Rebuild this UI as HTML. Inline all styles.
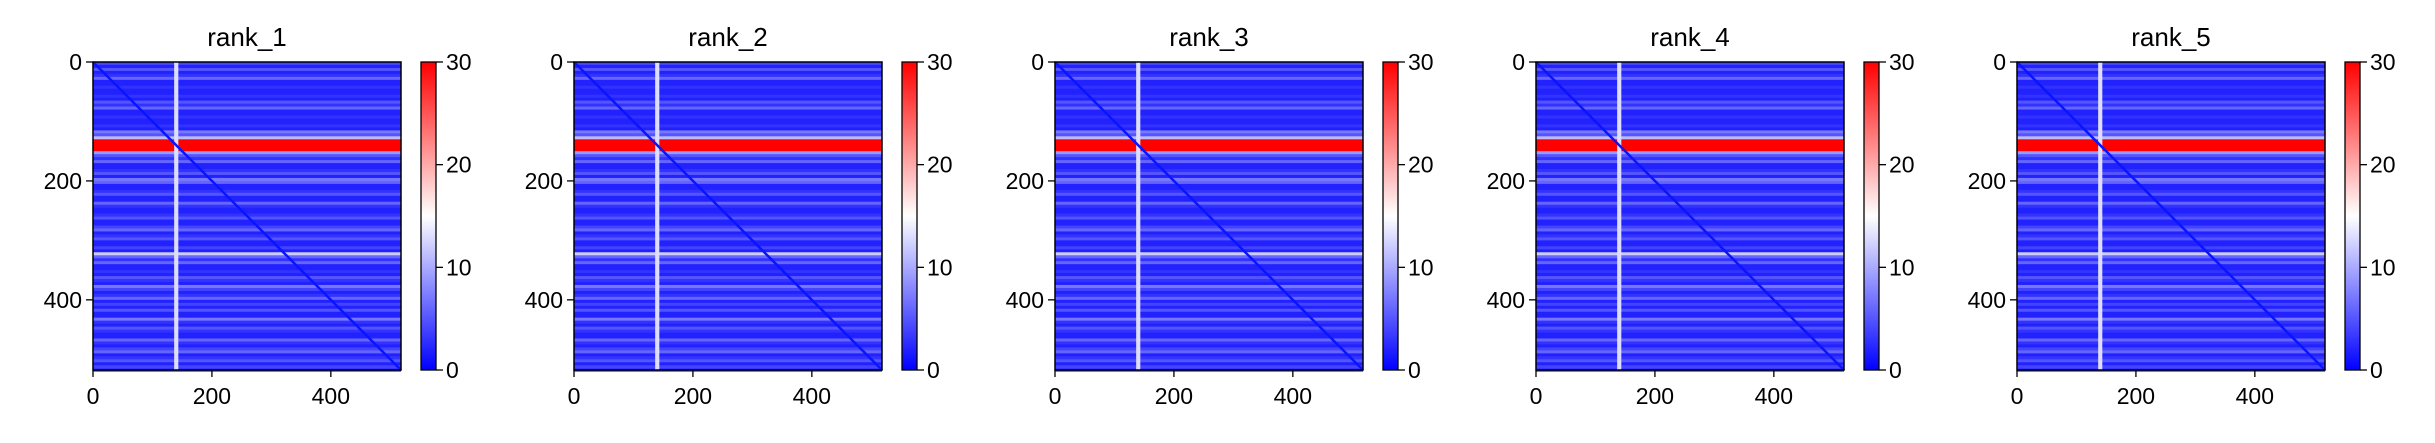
<!DOCTYPE html>
<html><head><meta charset="utf-8">
<style>
html,body{margin:0;padding:0;background:#fff;}
svg text{font-family:"Liberation Sans","DejaVu Sans",sans-serif;fill:#000;}
</style></head>
<body>
<svg id="fig" width="2435" height="438" viewBox="0 0 2435 438" xmlns="http://www.w3.org/2000/svg">
<defs>
<linearGradient id="bwr" x1="0" y1="1" x2="0" y2="0">
<stop offset="0" stop-color="#0000ff"/><stop offset="0.5" stop-color="#ffffff"/><stop offset="1" stop-color="#ff0000"/>
</linearGradient>
</defs>
</svg>
<script>
const panelTitles = ["rank_1","rank_2","rank_3","rank_4","rank_5"];
const axisTicks = [0,200,400];
const cbarTicks = [0,10,20,30];
const dataMax = 518;
const vmax = 30;
const binSize = 5;
// row intensity profile in 5-unit bins (0..515)
const rowProfile = [4,2,5,2,3,6,2,2,3,2,2,3,2,5,3,6,2,2,3,2,
  2,3,2,7,5,11,30,30,30,30,9,5,3,6,2,2,3,5,2,7,
  6,2,2,3,5,2,2,6,3,2,2,3,5,2,2,4,6,2,3,5,
  2,2,4,2,12,6,3,6,2,2,3,2,5,3,2,7,4,2,3,6,
  2,4,2,5,2,2,7,3,2,5,3,2,2,6,3,2,4,6,2,3,
  5,2,4,3];
const colBand = {pos:140, width:7, value:13};
const svg = document.getElementById('fig');
const NS = 'http://www.w3.org/2000/svg';
function mk(tag, attrs, parent){const e=document.createElementNS(NS,tag);for(const k in attrs)e.setAttribute(k,attrs[k]);(parent||svg).appendChild(e);return e;}
function cmap(v){let t=Math.max(0,Math.min(1,v/vmax));
  if(t<0.5){const u=Math.round(255*t*2);return `rgb(${u},${u},255)`;}
  const u=Math.round(255*(1-(t-0.5)*2));return `rgb(255,${u},${u})`;}
const L0=93, step=481, T=62, S=308;
panelTitles.forEach((title,p)=>{
  const L=L0+p*step;
  const sx=v=>L+v/dataMax*S, sy=v=>T+v/dataMax*S;
  const g=mk('g',{});
  
  
  const hm=mk('g',{},g);
  
  
  rowProfile.forEach((v,i)=>{
    const r=mk('rect',{x:sx(0),y:sy(i*binSize),width:S,height:sy((i+1)*binSize)-sy(i*binSize)+0.5,fill:cmap(v)},hm);
    
    
  });
  const c=mk('rect',{x:sx(colBand.pos-colBand.width/2),y:sy(0),width:sx(colBand.width)-sx(0),height:S,fill:cmap(colBand.value)},hm);
  
  
  const d=mk('line',{x1:sx(0),y1:sy(0),x2:sx(dataMax),y2:sy(dataMax),stroke:'#0a14ff','stroke-width':2.5},hm);
  
  
  const fr=mk('rect',{x:L,y:T,width:S,height:S,fill:'none',stroke:'#000','stroke-width':1.5},g);
  
  
  const tt=mk('text',{x:L+S/2,y:46,'font-size':26,'text-anchor':'middle'},g);
  tt.textContent=title;
  
  
  axisTicks.forEach(t=>{
    mk('line',{x1:sx(t),y1:T+S,x2:sx(t),y2:T+S+7,stroke:'#000','stroke-width':1.3},g);
    const xl=mk('text',{x:sx(t),y:T+S+34,'font-size':23,'text-anchor':'middle'},g);
    xl.textContent=t;
    
    
    mk('line',{x1:L-7,y1:sy(t),x2:L,y2:sy(t),stroke:'#000','stroke-width':1.3},g);
    const yl=mk('text',{x:L-11,y:sy(t)+8,'font-size':23,'text-anchor':'end'},g);
    yl.textContent=t;
    
    
  });
  const cx=L+S+20, cw=15;
  const cb=mk('rect',{x:cx,y:T,width:cw,height:S,fill:'url(#bwr)',stroke:'#000','stroke-width':1.3},g);
  
  
  cbarTicks.forEach(t=>{
    const y=T+S-t/vmax*S;
    mk('line',{x1:cx+cw,y1:y,x2:cx+cw+7,y2:y,stroke:'#000','stroke-width':1.3},g);
    const cl=mk('text',{x:cx+cw+10,y:y+8,'font-size':23},g);
    cl.textContent=t;
    
    
  });
});
</script>
</body></html>
